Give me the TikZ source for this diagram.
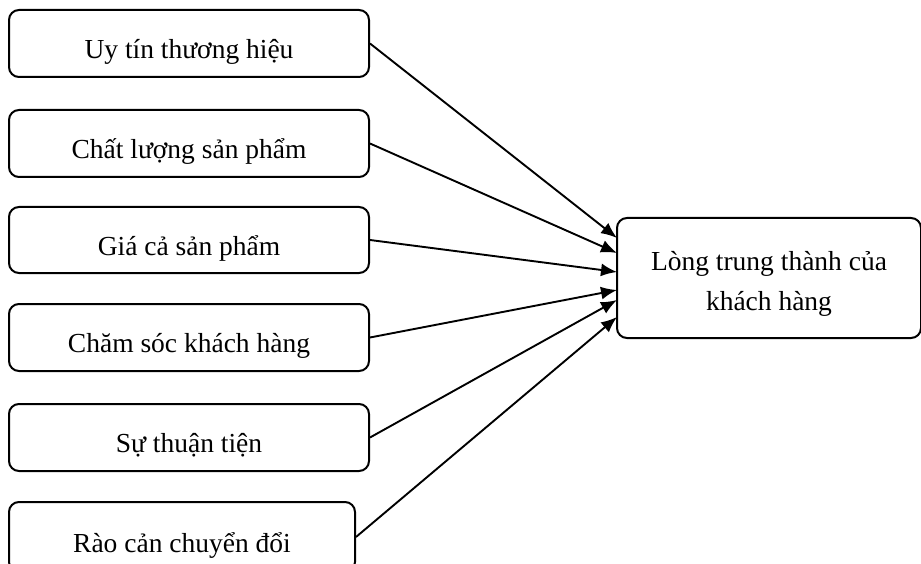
\documentclass[tikz,border=0pt]{standalone}
\usepackage{fontspec}
\setmainfont{Liberation Serif}
\usetikzlibrary{arrows.meta}
\begin{document}
\begin{tikzpicture}[x=1pt,y=-1pt,
  box/.style={draw,line width=2pt,rounded corners=10pt,inner sep=0pt,
    font=\fontsize{27.5}{40}\selectfont,text height=36pt,text depth=6pt},
  boxtext/.style={inner sep=0pt,font=\fontsize{27.5}{40}\selectfont,align=center,anchor=base},
  link/.style={line width=1.9pt,-{Latex[length=16pt,width=13pt]}}]
\useasboundingbox (0,0) rectangle (921,564);
\node[box,minimum width=360pt,minimum height=67pt] (b1) at (189,43.5) {Uy tín thương hiệu};
\node[box,minimum width=360pt,minimum height=67pt] (b2) at (189,143.5) {Chất lượng sản phẩm};
\node[box,minimum width=360pt,minimum height=66pt] (b3) at (189,240) {Giá cả sản phẩm};
\node[box,minimum width=360pt,minimum height=67pt] (b4) at (189,337.5) {Chăm sóc khách hàng};
\node[box,minimum width=360pt,minimum height=67pt] (b5) at (189,437.5) {Sự thuận tiện};
\node[box,minimum width=346pt,minimum height=70pt] (b6) at (182,537) {Rào cản chuyển đổi};
\node[box,minimum width=304pt,minimum height=120pt] (r) at (769,278) {};
\node[boxtext] (rt) at (769,310) {Lòng trung thành của\\khách hàng};
\coordinate (t1) at (617,238);
\coordinate (t2) at (617,253);
\coordinate (t3) at (617,272);
\coordinate (t4) at (617,290);
\coordinate (t5) at (617,300);
\coordinate (t6) at (617,317);
\draw[link] (b1.east) -- (t1);
\draw[link] (b2.east) -- (t2);
\draw[link] (b3.east) -- (t3);
\draw[link] (b4.east) -- (t4);
\draw[link] (b5.east) -- (t5);
\draw[link] (b6.east) -- (t6);
\end{tikzpicture}
\end{document}
